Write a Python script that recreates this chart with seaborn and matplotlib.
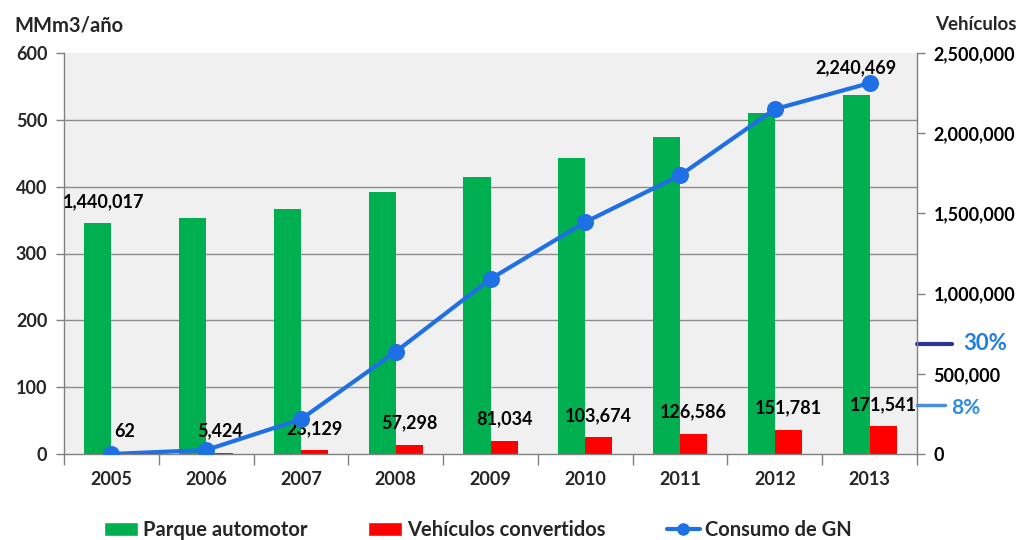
import numpy as np
import pandas as pd
import matplotlib
matplotlib.use("Agg")
import matplotlib.pyplot as plt
import matplotlib.transforms as mtransforms
from matplotlib.patches import Patch
from matplotlib.lines import Line2D
from matplotlib.ticker import FuncFormatter, FixedLocator
import seaborn as sns

# ---- data ----
years = ["2005", "2006", "2007", "2008", "2009", "2010", "2011", "2012", "2013"]
parque_automotor = [1440017, 1471000, 1527000, 1633000, 1727000, 1845000, 1976000, 2126000, 2240469]
vehiculos_convertidos = [62, 5424, 23129, 57298, 81034, 103674, 126586, 151781, 171541]
consumo_gn = [0, 6, 52, 153, 262, 347, 417, 516, 555]
series_names = ["Parque automotor", "Vehículos convertidos", "Consumo de GN"]
green_labels = {0: "1,440,017", 8: "2,240,469"}

GREEN = "#00B050"
RED = "#FF0000"
BLUE = "#1F6FE5"
FW = "bold"

sns.set_theme(style="white")
plt.rcParams["font.family"] = ["Lato", "DejaVu Sans"]
plt.rcParams["font.weight"] = FW

fig = plt.figure(figsize=(10.27, 5.40), dpi=100)
ax_bar = fig.add_axes([64 / 1027, 1 - 454 / 540, (917 - 64) / 1027, (454 - 53) / 540])
ax_line = ax_bar.twinx()
ax_bar.set_facecolor("#F0F0F0")

df = pd.DataFrame({
    "year": years * 2,
    "value": parque_automotor + vehiculos_convertidos,
    "serie": [series_names[0]] * len(years) + [series_names[1]] * len(years),
})
sns.barplot(data=df, x="year", y="value", hue="serie", palette=[GREEN, RED],
            width=0.57, ax=ax_bar, legend=False, saturation=1, zorder=2, linewidth=0)

ax_bar.set_ylim(0, 2500000)
ax_bar.set_xlim(-0.5, len(years) - 0.5)
ax_bar.set_yticks(np.arange(0, 2500001, 500000))
ax_bar.yaxis.set_major_formatter(FuncFormatter(lambda v, p: f"{int(v):,}"))
ax_bar.yaxis.set_minor_locator(FixedLocator(np.arange(0, 7) * 2500000 / 6))
ax_bar.grid(which="minor", axis="y", color="#8C8C8C", linewidth=1.0, zorder=0)
ax_bar.grid(which="major", axis="y", visible=False)
ax_bar.set_axisbelow(True)
ax_bar.tick_params(axis="y", which="minor", length=0, right=False, left=False)
ax_bar.tick_params(axis="y", which="major", length=6, color="#808080", width=1,
                   labelsize=13, pad=6, right=True, left=False,
                   labelright=True, labelleft=False, labelcolor="black")
ax_bar.set_xlabel("")
ax_bar.set_ylabel("")

ax_bar.set_xticks(range(len(years)))
ax_bar.set_xticklabels(years)
ax_bar.xaxis.set_minor_locator(FixedLocator(np.arange(-0.5, len(years), 1.0)))
ax_bar.tick_params(axis="x", which="major", length=0, labelsize=13, pad=12, bottom=True)
ax_bar.tick_params(axis="x", which="minor", length=8, color="#808080", width=1, bottom=True)

ax_bar.spines["top"].set_visible(False)
for s in ["left", "right", "bottom"]:
    ax_bar.spines[s].set_color("#808080")
    ax_bar.spines[s].set_linewidth(1)

for i, v in enumerate(vehiculos_convertidos):
    ax_bar.annotate(f"{v:,}", xy=(i + 0.1425, v), xytext=(0, 22), textcoords="offset pixels",
                    ha="center", va="center", fontsize=13, color="black", zorder=5)
for i, txt in green_labels.items():
    off = 21 if i == 0 else 27
    ax_bar.annotate(txt, xy=(i - 0.1425 + (0.06 if i == 0 else 0), parque_automotor[i]),
                    xytext=(0, off), textcoords="offset pixels", ha="center", va="center",
                    fontsize=13, color="black", zorder=5)

# ---- line on left axis ----
sns.pointplot(x=years, y=consumo_gn, ax=ax_line, color=BLUE, markers="o",
              linewidth=3, markersize=10, errorbar=None)
ax_line.set_ylim(0, 600)
ax_line.set_xlim(-0.5, len(years) - 0.5)
ax_line.set_yticks(np.arange(0, 601, 100))
ax_line.tick_params(axis="y", length=6, color="#808080", width=1, labelsize=13, pad=6,
                    left=True, right=False, labelleft=True, labelright=False)
ax_line.yaxis.set_label_position("left")
ax_line.set_ylabel("")
ax_line.grid(False)
for s in ax_line.spines.values():
    s.set_visible(False)

fig.text(14 / 1027, 1 - 25 / 540, "MMm3/año", fontsize=14.5, ha="left", va="center")
fig.text(935 / 1027, 1 - 25 / 540, "Vehículos", fontsize=13.5, ha="left", va="center")

trans = mtransforms.blended_transform_factory(ax_bar.transAxes, ax_bar.transData)
ax_bar.plot([1.0, 1.041], [686000, 686000], transform=trans, color="#2B3595", lw=3, clip_on=False)
ax_bar.text(1.054, 686000, "30%", transform=trans, color="#1E7FE0", fontsize=16,
            fontweight="bold", ha="left", va="center", clip_on=False)
ax_bar.plot([1.0, 1.033], [305000, 305000], transform=trans, color="#4A8FD8", lw=2.5, clip_on=False)
ax_bar.text(1.04, 285000, "8%", transform=trans, color="#2E8BE6", fontsize=15,
            fontweight="bold", ha="left", va="center", clip_on=False)

handles = [Patch(facecolor=GREEN), Patch(facecolor=RED),
           Line2D([], [], color=BLUE, lw=3, marker="o", markersize=8)]
fig.legend(handles, series_names, loc="center", bbox_to_anchor=(478 / 1027, 1 - 530 / 540),
           ncol=3, frameon=False, fontsize=14.5, handlelength=1.65, handleheight=0.65,
           handletextpad=0.25, columnspacing=3.05)

fig.savefig("out.png", dpi=100, facecolor="white")
